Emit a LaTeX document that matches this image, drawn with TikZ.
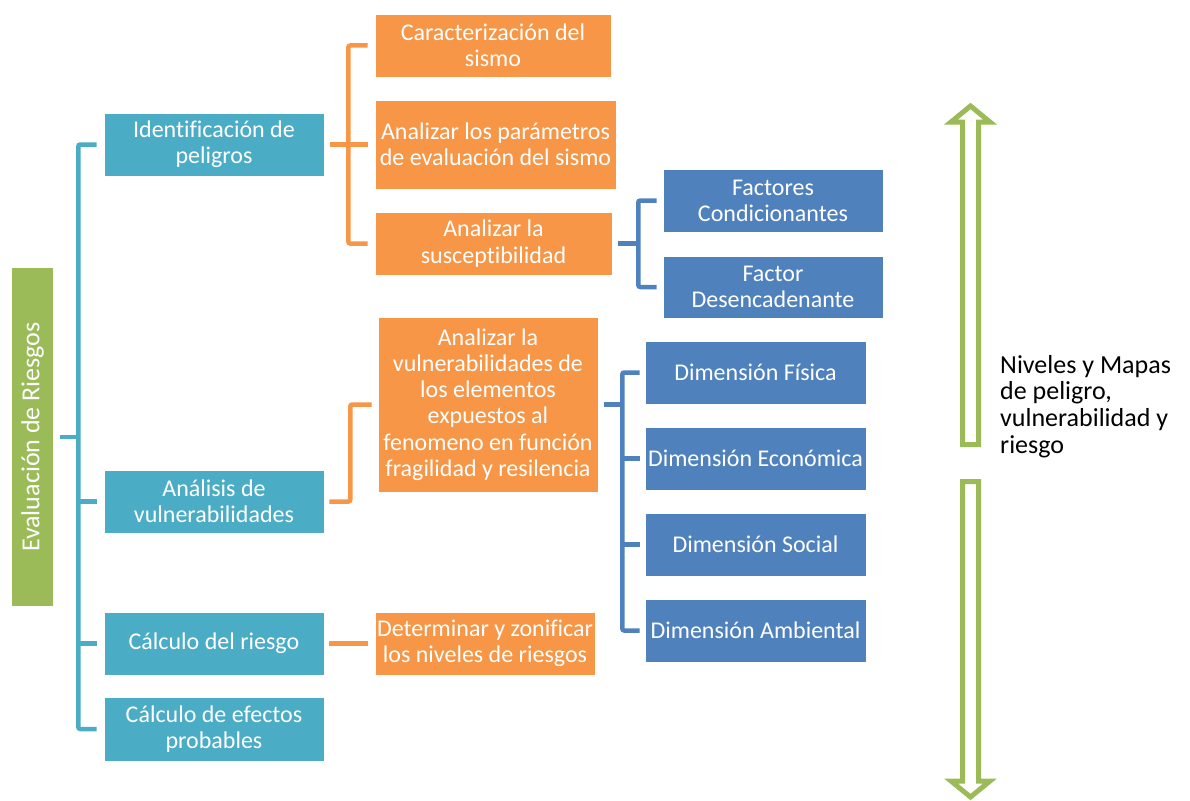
\documentclass[tikz,border=0pt]{standalone}
\usepackage{fontspec}
\setmainfont{Carlito}[Ligatures={NoCommon}]
\definecolor{cteal}{HTML}{4BACC6}
\definecolor{corange}{HTML}{F79646}
\definecolor{cblue}{HTML}{4F81BD}
\definecolor{cgreen}{HTML}{9BBB59}
\begin{document}
\begin{tikzpicture}[x=1pt,y=-1pt,
  boxbase/.style={rectangle, inner sep=0pt, align=center, text=white,
    font=\fontsize{24}{26.2}\selectfont, draw=white, line width=0.6pt},
  tealbox/.style={boxbase, fill=cteal},
  orangebox/.style={boxbase, fill=corange},
  bluebox/.style={boxbase, fill=cblue},
  rootbox/.style={boxbase, fill=cgreen, draw=none, font=\fontsize{26}{28}\selectfont},
  tealline/.style={draw=cteal, line width=4.5pt, rounded corners=2pt},
  orangeline/.style={draw=corange, line width=4.5pt, rounded corners=2pt},
  blueline/.style={draw=cblue, line width=4.5pt, rounded corners=2pt},
  bigarrow/.style={draw=cgreen, line width=5pt, fill=white, line join=miter},
  sidetext/.style={font=\fontsize{26}{26.7}\selectfont, align=left, inner sep=0pt, anchor=north west}
]
\useasboundingbox (0,0) rectangle (1190,800);

% root
\node[rootbox, minimum width=41, minimum height=338] (root) at (32.5,437)
  {\rotatebox{90}{Evaluación de Riesgos}};

% level 1 (teal)
\node[tealbox, minimum width=220, minimum height=63] (id) at (214,144.5) {Identificación de\\peligros};
\node[tealbox, minimum width=220, minimum height=63] (ana) at (214,501.5) {Análisis de\\vulnerabilidades};
\node[tealbox, minimum width=220, minimum height=63] (calc) at (214,643.5) {Cálculo del riesgo};
\node[tealbox, minimum width=220, minimum height=64] (efe) at (214,729) {Cálculo de efectos\\probables};

% level 2 (orange)
\node[orangebox, minimum width=236, minimum height=63] (car) at (493,45.5) {Caracterización del\\sismo};
\node[orangebox, minimum width=241, minimum height=89] (par) at (495.5,144.5) {Analizar los parámetros\\de evaluación del sismo};
\node[orangebox, minimum width=237, minimum height=63] (sus) at (493.5,243.5) {Analizar la\\susceptibilidad};
\node[orangebox, minimum width=220, minimum height=175] (av) at (488,404.5)
  {Analizar la\\vulnerabilidades de\\los elementos\\expuestos al\\fenomeno en función\\fragilidad y resilencia};
\node[orangebox, minimum width=220, minimum height=63] (det) at (485,643.5) {Determinar y zonificar\\los niveles de riesgos};

% level 3 (blue)
\node[bluebox, minimum width=220, minimum height=63] (fc) at (773,200.5) {Factores\\Condicionantes};
\node[bluebox, minimum width=220, minimum height=62] (fd) at (773,287) {Factor\\Desencadenante};
\node[bluebox, minimum width=221, minimum height=63] (df) at (755.5,372.5) {Dimensión Física};
\node[bluebox, minimum width=221, minimum height=63] (de) at (755.5,458.5) {Dimensión Económica};
\node[bluebox, minimum width=221, minimum height=63] (ds) at (755.5,544.5) {Dimensión Social};
\node[bluebox, minimum width=221, minimum height=63] (dam) at (755.5,630.5) {Dimensión Ambiental};

% teal bracket
\coordinate (tj) at ([xshift=25]root.east);
\draw[tealline] ([xshift=7]root.east) -- (tj);
\draw[tealline] ([xshift=-7]id.west) -- (id.west -| tj) -- (efe.west -| tj) -- ([xshift=-7]efe.west);
\draw[tealline] ([xshift=-7]ana.west) -- (ana.west -| tj);
\draw[tealline] ([xshift=-7]calc.west) -- (calc.west -| tj);

% orange bracket for id
\coordinate (oj) at ([xshift=24]id.east);
\draw[orangeline] ([xshift=6]id.east) -- (oj);
\draw[orangeline] ([xshift=-7]car.west) -- (car.west -| oj) -- (sus.west -| oj) -- ([xshift=-7]sus.west);
\draw[orangeline] ([xshift=-7]par.west) -- (par.west -| oj);

% orange elbow for ana
\coordinate (oj2) at ([xshift=26]ana.east);
\draw[orangeline] ([xshift=5]ana.east) -- (oj2) -- (av.west -| oj2) -- ([xshift=-6]av.west);

% orange line for calc
\draw[orangeline] ([xshift=5]calc.east) -- ([xshift=-7]det.west);

% blue bracket for sus
\coordinate (bj) at ([xshift=26]sus.east);
\draw[blueline] ([xshift=6]sus.east) -- (bj);
\draw[blueline] ([xshift=-6]fc.west) -- (fc.west -| bj) -- (fd.west -| bj) -- ([xshift=-6]fd.west);

% blue bracket for av
\coordinate (bj2) at ([xshift=24]av.east);
\draw[blueline] ([xshift=6]av.east) -- (bj2);
\draw[blueline] ([xshift=-5]df.west) -- (df.west -| bj2) -- (dam.west -| bj2) -- ([xshift=-5]dam.west);
\draw[blueline] ([xshift=-5]de.west) -- (de.west -| bj2);
\draw[blueline] ([xshift=-5]ds.west) -- (ds.west -| bj2);

% green block arrows
\draw[bigarrow] (962.5,444.5) -- (962.5,122) -- (951,122) -- (970.5,106) -- (990,122) -- (978.5,122) -- (978.5,444.5) -- cycle;
\draw[bigarrow] (962.5,481.5) -- (962.5,781) -- (951,781) -- (970.5,797) -- (990,781) -- (978.5,781) -- (978.5,481.5) -- cycle;

% side text
\node[sidetext] (lbl) at (1000,355) {Niveles y Mapas\\de peligro,\\vulnerabilidad y\\riesgo};
\end{tikzpicture}
\end{document}
